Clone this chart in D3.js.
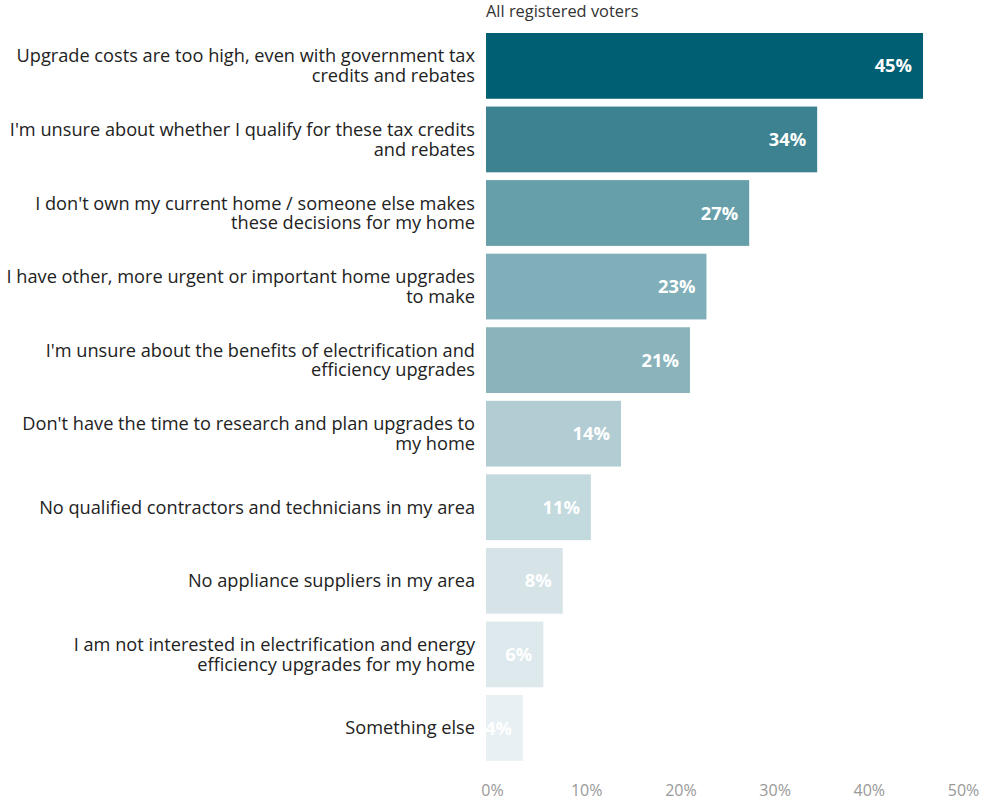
<!DOCTYPE html>
<html>
<head>
<meta charset="utf-8">
<script src="https://cdn.jsdelivr.net/npm/d3@7"></script>
<style>
  html, body { margin: 0; padding: 0; background: #fff; }
  svg { display: block; }
</style>
</head>
<body>
<svg id="chart" width="996" height="800"></svg>
<script>
const title = "All registered voters";
const categories = [
  "Upgrade costs are too high, even with government tax\ncredits and rebates",
  "I'm unsure about whether I qualify for these tax credits\nand rebates",
  "I don't own my current home / someone else makes\nthese decisions for my home",
  "I have other, more urgent or important home upgrades\nto make",
  "I'm unsure about the benefits of electrification and\nefficiency upgrades",
  "Don't have the time to research and plan upgrades to\nmy home",
  "No qualified contractors and technicians in my area",
  "No appliance suppliers in my area",
  "I am not interested in electrification and energy\nefficiency upgrades for my home",
  "Something else"
];
const values = [45, 34, 27, 23, 21, 14, 11, 8, 6, 4];
const barLengths = [45, 34.1, 27.1, 22.7, 21.0, 13.9, 10.8, 7.9, 5.9, 3.8];
const colors = ["#005f73", "#3d8290", "#669ea9", "#80afb9", "#8ab3bc", "#b1cdd3", "#c2d9de", "#d6e4e8", "#dee9ed", "#e8f0f3"];
const tickValues = [0, 10, 20, 30, 40, 50];

const svg = d3.select("#chart");
const font = "'Open Sans', sans-serif";

const x = d3.scaleLinear().domain([0, 50]).range([486, 971.6]);
const xAxisScale = d3.scaleLinear().domain([0, 50]).range([492, 963]);
const y = d3.scaleBand().domain(categories).range([25.2, 768.6]).padding(0.106);

svg.append("text")
  .attr("x", 486).attr("y", 17)
  .attr("font-family", font).attr("font-size", 16.4)
  .attr("fill", "#333")
  .text(title);

const rows = svg.append("g").selectAll("g").data(categories).join("g");

rows.append("rect")
  .attr("x", x(0))
  .attr("y", d => y(d))
  .attr("width", (d, i) => x(barLengths[i]) - x(0))
  .attr("height", y.bandwidth())
  .attr("fill", (d, i) => colors[i]);

rows.append("text")
  .attr("x", (d, i) => x(barLengths[i]) - 11)
  .attr("y", d => y(d) + y.bandwidth() / 2)
  .attr("dy", "0.36em")
  .attr("text-anchor", "end")
  .attr("font-family", font).attr("font-size", 18.3).attr("font-weight", 700)
  .attr("fill", "#fff")
  .text((d, i) => values[i] + "%");

rows.each(function(d) {
  const lines = d.split("\n");
  const lh = 19.6;
  const cy = y(d) + y.bandwidth() / 2;
  const t = d3.select(this).append("text")
    .attr("text-anchor", "end")
    .attr("font-family", font).attr("font-size", 18.2)
    .attr("fill", "#222");
  lines.forEach((ln, k) => {
    t.append("tspan")
      .attr("x", 475)
      .attr("y", cy + (k - (lines.length - 1) / 2) * lh)
      .attr("dy", "0.35em")
      .text(ln);
  });
});

const axis = d3.axisBottom(xAxisScale)
  .tickValues(tickValues)
  .tickFormat(d => d + "%")
  .tickSize(0)
  .tickPadding(0);

const ax = svg.append("g").attr("transform", "translate(0,784.5)").call(axis);
ax.select(".domain").remove();
ax.selectAll("text")
  .attr("font-family", font).attr("font-size", 16)
  .attr("fill", "#999");
</script>
</body>
</html>
